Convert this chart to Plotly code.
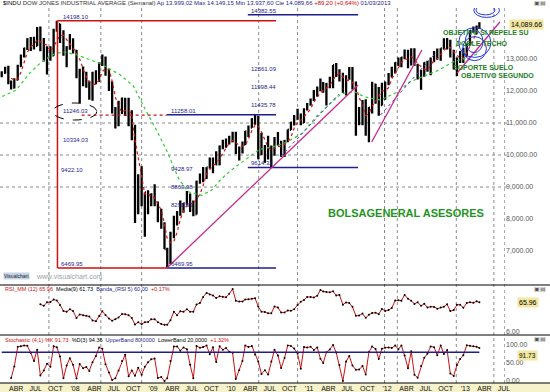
import plotly.graph_objects as go
import pandas as pd

W, H = 550, 392
PLOT_W = 505

# ---------------- DATA (semi-monthly bars, Dow Jones Industrial) ----------------
OPEN_2007 = [12500, 12570, 12650, 12270, 12110, 12350, 12780, 13100, 13330, 13620, 13490, 13410, 13900, 13360, 13240, 13240, 13110, 13900, 14090, 13800, 13180, 13370, 13600]
HIGH_2007 = [12620, 12760, 12790, 12330, 12400, 12820, 13140, 13350, 13650, 13690, 13700, 14000, 14020, 13660, 13400, 13400, 13950, 14198.10, 14100, 13900, 13400, 13780, 13650]
LOW_2007 = [12430, 12540, 12210, 12050, 12080, 12340, 12760, 13050, 13280, 13250, 13300, 13400, 13240, 12920, 12520, 12950, 13100, 13850, 13500, 13100, 12740, 13290, 13170]
CLOSE_2007 = [12570, 12650, 12270, 12110, 12350, 12780, 13100, 13330, 13620, 13490, 13410, 13900, 13360, 13240, 13240, 13110, 13900, 14090, 13800, 13180, 13370, 13600, 13260]

OPEN_2008 = [13260, 12500, 12650, 12350, 12270, 11950, 12260, 12360, 12820, 12990, 12640, 12270, 11350, 11000, 11380, 11650, 11540, 11020, 10850, 8450, 9320, 8500, 8830, 8600]
HIGH_2008 = [13280, 12700, 12770, 12600, 12300, 12600, 12650, 12900, 13140, 13080, 12700, 12300, 11500, 11700, 11800, 11790, 11790, 11400, 10950, 9400, 9650, 8830, 8900, 8800]
LOW_2008 = [12400, 11630, 12150, 12100, 11730, 11700, 12210, 12280, 12780, 12480, 12000, 11300, 10830, 10900, 11280, 11220, 10900, 10460, 7880, 8150, 8400, 7450, 8150, 8400]
CLOSE_2008 = [12500, 12650, 12350, 12270, 11950, 12260, 12360, 12820, 12990, 12640, 12270, 11350, 11000, 11380, 11650, 11540, 11020, 10850, 8450, 9320, 8500, 8830, 8600, 8780]

OPEN_2009 = [8780, 8470, 8000, 7850, 7060, 6630, 7500, 8030, 8180, 8270, 8500, 8750, 8450, 8150, 9170, 9320, 9540, 9610, 9710, 9870, 9710, 10270, 10340, 10450]
HIGH_2009 = [9090, 8550, 8320, 7900, 7100, 7600, 8100, 8250, 8580, 8500, 8880, 8800, 8580, 9200, 9420, 9630, 9620, 9920, 9920, 10120, 10300, 10480, 10520, 10600]
LOW_2009 = [8400, 7900, 7700, 7060, 6469.95, 6600, 7400, 7800, 8100, 8200, 8450, 8220, 8090, 8140, 9100, 9150, 9250, 9580, 9430, 9680, 9680, 10180, 10230, 10330]
CLOSE_2009 = [8470, 8000, 7850, 7060, 6630, 7500, 8030, 8180, 8270, 8500, 8750, 8450, 8150, 9170, 9320, 9540, 9610, 9710, 9870, 9710, 10270, 10340, 10450, 10430]

OPEN_2010 = [10430, 10610, 10070, 10100, 10330, 10740, 10860, 11120, 11010, 10620, 10140, 10210, 10020, 10200, 10470, 10400, 10010, 10440, 10790, 11010, 11120, 11200, 11010, 11430]
HIGH_2010 = [10730, 10730, 10270, 10420, 10750, 10920, 11150, 11258, 11230, 10700, 10310, 10600, 10300, 10560, 10720, 10450, 10470, 10800, 11040, 11250, 11450, 11300, 11460, 11630]
LOW_2010 = [10400, 10030, 9830, 10050, 10310, 10560, 10850, 10950, 9870, 9990, 9760, 9860, 9614.32, 9980, 10300, 9940, 9940, 10400, 10780, 10920, 11100, 10930, 11000, 11390]
CLOSE_2010 = [10610, 10070, 10100, 10330, 10740, 10860, 11120, 11010, 10620, 10140, 10210, 10020, 10200, 10470, 10400, 10010, 10440, 10790, 11010, 11120, 11200, 11010, 11430, 11580]

OPEN_2011 = [11580, 11730, 11890, 12090, 12070, 12040, 12220, 12340, 12810, 12600, 12440, 11950, 12410, 12480, 12240, 11270, 11280, 11500, 10910, 11480, 12210, 12080, 11560, 12180]
HIGH_2011 = [11770, 12030, 12140, 12390, 12280, 12250, 12450, 12810, 12880, 12680, 12570, 12490, 12750, 12750, 12300, 11500, 11720, 11740, 11500, 12290, 12230, 12130, 12260, 12300]
LOW_2011 = [11550, 11690, 11820, 11990, 11950, 11550, 12090, 12090, 12440, 12300, 11950, 11860, 12350, 12050, 10600, 10930, 10930, 10600, 10400, 11300, 11600, 11230, 11550, 11730]
CLOSE_2011 = [11730, 11890, 12090, 12070, 12040, 12220, 12340, 12810, 12600, 12440, 11950, 12410, 12480, 12240, 11270, 11280, 11500, 10910, 11480, 12210, 12080, 11560, 12180, 12220]

OPEN_2012 = [12220, 12470, 12660, 12880, 12950, 13050, 13080, 12920, 13230, 12820, 12450, 12580, 12880, 12730, 13010, 13200, 13090, 13330, 13460, 13560, 13100, 12810, 13000, 13160]
HIGH_2012 = [12560, 12760, 12900, 13050, 13060, 13300, 13290, 13340, 13340, 12850, 12660, 12900, 12950, 13050, 13250, 13330, 13340, 13650, 13660, 13600, 13290, 13050, 13250, 13350]
LOW_2012 = [12180, 12420, 12550, 12780, 12740, 12990, 12710, 12800, 12800, 12360, 12040, 12450, 12600, 12490, 12900, 12980, 12950, 13320, 13300, 13050, 12670, 12470, 12880, 12880]
CLOSE_2012 = [12470, 12660, 12880, 12950, 13050, 13080, 12920, 13230, 12820, 12450, 12580, 12880, 12730, 13010, 13200, 13090, 13330, 13460, 13560, 13100, 12810, 13000, 13160, 13100]

OPEN_2013 = [13100, 13470, 13880, 13980, 14000]
HIGH_2013 = [13480, 13900, 14020, 14050, 14150]
LOW_2013 = [13080, 13420, 13820, 13780, 13940]
CLOSE_2013 = [13470, 13880, 13980, 14000, 14089.66]

OPEN = OPEN_2007 + OPEN_2008 + OPEN_2009 + OPEN_2010 + OPEN_2011 + OPEN_2012 + OPEN_2013
HIGH = HIGH_2007 + HIGH_2008 + HIGH_2009 + HIGH_2010 + HIGH_2011 + HIGH_2012 + HIGH_2013
LOW = LOW_2007 + LOW_2008 + LOW_2009 + LOW_2010 + LOW_2011 + LOW_2012 + LOW_2013
CLOSE = CLOSE_2007 + CLOSE_2008 + CLOSE_2009 + CLOSE_2010 + CLOSE_2011 + CLOSE_2012 + CLOSE_2013

DATES = [pd.Timestamp(y, m, d) for y in range(2007, 2014) for m in range(1, 13) for d in (8, 23)]
DATES = [d for d in DATES if pd.Timestamp("2007-01-23") <= d <= pd.Timestamp("2013-03-08")]

# long (green) moving average
GREEN_DATES = ["2007-01-25", "2007-04-01", "2007-06-01", "2007-08-01", "2007-10-01", "2007-11-15",
               "2008-01-15", "2008-03-15", "2008-05-01", "2008-08-01", "2008-10-01", "2008-12-01",
               "2009-01-15", "2009-03-01", "2009-05-01", "2009-06-15", "2009-08-15", "2009-10-01", "2009-11-15",
               "2010-01-15", "2010-03-15", "2010-05-15", "2010-07-15", "2010-09-15", "2010-12-01",
               "2011-02-01", "2011-04-01", "2011-06-01", "2011-08-01", "2011-09-15", "2011-12-01",
               "2012-02-15", "2012-04-15", "2012-07-01", "2012-09-01", "2012-11-01", "2013-01-15", "2013-03-08"]
GREEN_VALUES = [11830, 12030, 12550, 12930, 13180, 13220,
                13120, 12960, 12850, 12500, 12150, 11350,
                10800, 10200, 9250, 8850, 8740, 8900, 9250,
                9600, 9880, 10180, 10260, 10390, 10680,
                11180, 11560, 11920, 11980, 11820, 11720,
                11960, 12280, 12500, 12660, 12900, 13050, 13180]

# Fibonacci / level annotations
PEAK_DATE, PEAK = "2007-10-11", 14198.10
LOW_DATE, BOTTOM = "2009-03-06", 6469.95
RETR1 = [11246.03, 10334.03, 9422.10]
RETR2_TOP = 11258.01
RETR2 = [9428.97, 8863.98, 8298.99]
RETR3_TOP, RETR3_LOW = 14382.55, 9614.32
RETR3 = [12561.09, 11998.44, 11435.78]
TREND_LINES = [("2009-03-06", 6469.95, "2011-08-18", 12189),
               ("2011-10-21", 10407, "2012-06-12", 13282),
               ("2012-11-24", 12564, "2013-06-12", 14157)]
DOTTED_TRENDS = [("2010-08-20", 9950, "2011-05-20", 11900),
                 ("2011-12-01", 11250, "2012-08-10", 13150)]

PRICE_TICKS = [7000, 8000, 9000, 10000, 11000, 12000, 13000]
PRICE_GRID = [9000, 10000, 11000]
VGRID_DATES = ["2007-09-01", "2008-05-01", "2008-11-08", "2010-05-10", "2010-11-08",
               "2011-12-20", "2012-02-18", "2012-11-20", "2013-05-15", "2013-07-05"]
MONTH_NAMES = {4: "ABR", 7: "JUL", 10: "OCT"}

X0, X1 = "2007-01-15", "2013-07-06"

# ---------------- indicators ----------------
cs = pd.Series(CLOSE, dtype=float)
hs = pd.Series(HIGH, dtype=float)
ls = pd.Series(LOW, dtype=float)
ma_short = cs.rolling(4).mean()
delta = cs.diff()
gain = delta.clip(lower=0).rolling(12).mean()
loss = (-delta.clip(upper=0)).rolling(12).mean()
rsi = 100 * gain / (gain + loss)
lo4 = ls.rolling(4).min()
hi4 = hs.rolling(4).max()
stoch = 100 * (cs - lo4) / (hi4 - lo4)


def py(px):
    return (H - px) / H


def pxx(px):
    return px / PLOT_W


FONT = "Liberation Sans, Arial, sans-serif"
NAVY = "#1e1e8c"
MAG = "#c8288c"

fig = go.Figure()
fig.add_trace(go.Ohlc(x=DATES, open=OPEN, high=HIGH, low=LOW, close=CLOSE,
                      increasing=dict(line=dict(color="black", width=2.3)),
                      decreasing=dict(line=dict(color="black", width=2.3)),
                      tickwidth=0.4, xaxis="x", yaxis="y", showlegend=False, hoverinfo="skip"))
fig.add_trace(go.Scatter(x=DATES, y=ma_short, mode="lines", line=dict(color="#dd1111", width=1.2, dash="dot"),
                         xaxis="x", yaxis="y", showlegend=False, hoverinfo="skip"))
fig.add_trace(go.Scatter(x=GREEN_DATES, y=GREEN_VALUES, mode="lines", line=dict(color="#33cc33", width=1.2, dash="dot"),
                         xaxis="x", yaxis="y", showlegend=False, hoverinfo="skip"))
fig.add_trace(go.Scatter(x=DATES, y=rsi, mode="lines+markers", line=dict(color="#cc1111", width=1),
                         marker=dict(color="black", size=2), xaxis="x2", yaxis="y2", showlegend=False, hoverinfo="skip"))
fig.add_trace(go.Scatter(x=DATES, y=stoch, mode="lines+markers", line=dict(color="#cc1111", width=1),
                         marker=dict(color="black", size=2), xaxis="x3", yaxis="y3", showlegend=False, hoverinfo="skip"))

shapes = []
# background strip for time axis
shapes.append(dict(type="rect", xref="paper", yref="paper", x0=0, x1=W / PLOT_W, y0=0, y1=py(383),
                   fillcolor="#f6f2cc", line=dict(width=0), layer="below"))
# separators
for sep in (285, 335, 383):
    shapes.append(dict(type="line", xref="paper", yref="paper", x0=0, x1=W / PLOT_W, y0=py(sep), y1=py(sep),
                       line=dict(color="black", width=1)))
# grid
for v in PRICE_GRID:
    shapes.append(dict(type="line", xref="paper", yref="y", x0=0, x1=1.01, y0=v, y1=v,
                       line=dict(color="#8a8a8a", width=1, dash="dot"), layer="below"))
for d in VGRID_DATES:
    shapes.append(dict(type="line", xref="x", yref="paper", x0=d, x1=d, y0=py(383), y1=py(8),
                       line=dict(color="#8a8a8a", width=1, dash="dot"), layer="below"))
# first fibonacci box (red)
shapes.append(dict(type="line", xref="x", yref="y", x0=PEAK_DATE, x1="2010-07-30", y0=PEAK, y1=PEAK,
                   line=dict(color="#cc1111", width=1.5)))
shapes.append(dict(type="line", xref="x", yref="y", x0=PEAK_DATE, x1=PEAK_DATE, y0=BOTTOM, y1=PEAK,
                   line=dict(color="#cc1111", width=1.5)))
shapes.append(dict(type="line", xref="x", yref="y", x0=PEAK_DATE, x1=LOW_DATE, y0=BOTTOM, y1=BOTTOM,
                   line=dict(color="#cc1111", width=1.5)))
shapes.append(dict(type="line", xref="x", yref="y", x0=LOW_DATE, x1="2010-07-30", y0=BOTTOM, y1=BOTTOM,
                   line=dict(color=NAVY, width=1.5)))
shapes.append(dict(type="line", xref="x", yref="y", x0="2008-02-01", x1=LOW_DATE, y0=RETR1[0], y1=RETR1[0],
                   line=dict(color="#cc1111", width=1.2, dash="dot")))
shapes.append(dict(type="line", xref="x", yref="y", x0=LOW_DATE, x1="2010-07-30", y0=RETR2_TOP, y1=RETR2_TOP,
                   line=dict(color=NAVY, width=1.5)))
shapes.append(dict(type="line", xref="x", yref="y", x0="2010-03-20", x1="2011-08-18", y0=RETR3_TOP, y1=RETR3_TOP,
                   line=dict(color=NAVY, width=1.5)))
shapes.append(dict(type="line", xref="x", yref="y", x0="2010-03-20", x1="2011-08-18", y0=RETR3_LOW, y1=RETR3_LOW,
                   line=dict(color=NAVY, width=1.5)))
shapes.append(dict(type="circle", xref="x", yref="y", x0="2007-09-19", x1="2008-04-12", y0=11095, y1=11626,
                   line=dict(color="black", width=1, dash="dash")))
for (a, va, b, vb) in TREND_LINES:
    shapes.append(dict(type="line", xref="x", yref="y", x0=a, x1=b, y0=va, y1=vb, line=dict(color=MAG, width=1.3)))
for (a, va, b, vb) in DOTTED_TRENDS:
    shapes.append(dict(type="line", xref="x", yref="y", x0=a, x1=b, y0=va, y1=vb,
                       line=dict(color="#5a3cb4", width=1, dash="dot")))
# blue hand-drawn circles
for (a, b, v0, v1) in [("2013-02-10", "2013-06-10", 14300, 14750), ("2012-12-01", "2013-05-01", 13050, 13980),
                       ("2012-12-20", "2013-04-10", 12950, 13700), ("2013-01-01", "2013-03-25", 13200, 13900),
                       ("2013-02-20", "2013-05-20", 14380, 14680)]:
    shapes.append(dict(type="circle", xref="x", yref="y", x0=a, x1=b, y0=v0, y1=v1,
                       line=dict(color="#2436e0", width=1)))
# stochastic upper band
shapes.append(dict(type="line", xref="x3", yref="y3", x0=DATES[0], x1=DATES[-1], y0=80, y1=80,
                   line=dict(color=NAVY, width=1.5)))

ann = []


def lab(x, y, text, color=NAVY, size=6):
    ann.append(dict(x=x, y=y, xref="x", yref="y", text=text, showarrow=False, xanchor="left", yanchor="bottom",
                    font=dict(size=size, color=color, family=FONT), borderpad=0))


lab("2007-10-31", PEAK, f"{PEAK:.2f}")
lab("2007-10-31", RETR1[0], f"{RETR1[0]:.2f}")
lab("2007-10-31", RETR1[1], f"{RETR1[1]:.2f}")
lab("2007-10-21", RETR1[2], f"{RETR1[2]:.2f}")
lab("2007-10-21", BOTTOM, f"{BOTTOM:.2f}")
lab("2009-03-20", BOTTOM, f"{BOTTOM:.2f}")
lab("2009-03-20", RETR2_TOP, f"{RETR2_TOP:.2f}")
for v in RETR2:
    lab("2009-03-20", v, f"{v:.2f}")
lab("2010-03-30", RETR3_TOP, f"{RETR3_TOP:.2f}")
lab("2010-03-30", RETR3_LOW, f"{RETR3_LOW:.2f}")
for v in RETR3:
    lab("2010-03-30", v, f"{v:.2f}")


def ptext(xpx, ypx, text, size, color, bold=False, anchor="left", bg=None):
    t = f"<b>{text}</b>" if bold else text
    d = dict(x=pxx(xpx), y=py(ypx), xref="paper", yref="paper", text=t, showarrow=False,
             xanchor=anchor, yanchor="middle", font=dict(size=size, color=color, family=FONT), borderpad=0)
    if bg:
        d["bgcolor"] = bg
    ann.append(d)


ptext(2, 3.5, '<span style="color:#000">$INDU</span> <span style="color:#333">DOW JONES INDUSTRIAL AVERAGE (Semanal)</span> '
      '<span style="color:#1e1e8c">Ap 13.999,02 Max 14.149,15 Min 13.937,60 Cie 14.089,66</span> '
      '<span style="color:#cc0000">+89,20 (+0,64%)</span> <span style="color:#1e1e8c">01/03/2013</span>', 6, "#000")
ptext(406, 213, "BOLSAGENERAL ASESORES", 11, "#1e961e", bold=True, anchor="center")
ptext(442, 33, "OBJETIVO SI REPELE SU", 7, "#23801f", bold=True)
ptext(455, 43, "DOBLE TECHO", 7, "#23801f", bold=True)
ptext(452, 67, "SOPORTE SUELO", 7, "#23801f", bold=True)
ptext(460, 75, "OBJETIVO SEGUNDO", 7, "#23801f", bold=True)
ptext(3, 276, "Visualchart", 5, "#223", bg="#c5d3e3")
ptext(35, 276, "www.visualchart.com", 7, "#9aa4aa")

last_rsi = rsi.iloc[-1]
last_k = stoch.iloc[-1]
ptext(4, 289, f'<span style="color:#cc1111">RSI_MM (12) {last_rsi:.2f}</span>  '
      f'<span style="color:#000">Media(9) {rsi.iloc[-9:].mean():.2f}</span>  '
      f'<span style="color:#1e1e8c">Banda_(RSI 5) 60,00</span>  <span style="color:#cc1111">+0,17%</span>', 5.5, "#000")
ptext(4, 339.5, f'<span style="color:#cc1111">Stochastic (4,1) %K {last_k:.2f}</span>  '
      f'<span style="color:#000">%D(3) {stoch.iloc[-3:].mean():.2f}</span>  '
      f'<span style="color:#1e1e8c">UpperBand 80,0000</span>  <span style="color:#000">LowerBand 20,0000</span>  '
      f'<span style="color:#cc1111">+1,32%</span>', 5.5, "#000")
for ypx in (3, 289, 339):
    ptext(547, ypx, "▣▤", 6, "#555", anchor="right")

# last value boxes on right scale
ann.append(dict(x=1.0, y=CLOSE[-1], xref="paper", yref="y", text=f"{CLOSE[-1]:,.2f}", showarrow=False,
                xanchor="left", yanchor="middle", bgcolor="#f2e6a0", font=dict(size=7, color="#000", family=FONT),
                xshift=4))
ann.append(dict(x=1.0, y=last_rsi, xref="paper", yref="y2", text=f"{last_rsi:.2f}", showarrow=False,
                xanchor="left", yanchor="middle", bgcolor="#f2e6a0", font=dict(size=7, color="#000", family=FONT),
                xshift=12))
ann.append(dict(x=1.0, y=last_k, xref="paper", yref="y3", text=f"{last_k:.2f}", showarrow=False,
                xanchor="left", yanchor="top", bgcolor="#f2e6a0", font=dict(size=6.5, color="#000", family=FONT),
                xshift=12, yshift=-2))

# time axis ticks
tickvals, ticktext = [], []
for y in range(2007, 2014):
    for m in (1, 4, 7, 10):
        d = pd.Timestamp(y, m, 1)
        if pd.Timestamp(X0) < d < pd.Timestamp(X1):
            tickvals.append(d)
            ticktext.append(f"'{str(y)[2:]}" if m == 1 else MONTH_NAMES[m])

axfont = dict(size=7, color="#555", family=FONT)
fig.update_layout(
    width=W, height=H, margin=dict(l=0, r=W - PLOT_W, t=0, b=0),
    paper_bgcolor="white", plot_bgcolor="white", showlegend=False,
    xaxis=dict(domain=[0, 1], range=[X0, X1], type="date", anchor="y", showticklabels=False, showgrid=False,
               zeroline=False, rangeslider=dict(visible=False)),
    xaxis2=dict(domain=[0, 1], range=[X0, X1], type="date", anchor="y2", showticklabels=False, showgrid=False,
                zeroline=False),
    xaxis3=dict(domain=[0, 1], range=[X0, X1], type="date", anchor="y3", tickvals=tickvals, ticktext=ticktext,
                tickfont=dict(size=7, color="#111", family=FONT), ticks="", showgrid=False, zeroline=False,
                automargin=False),
    yaxis=dict(domain=[py(284), py(8)], range=[5970, 14595], side="right", anchor="x", tickvals=PRICE_TICKS,
               ticktext=[f"{v:,.2f}" for v in PRICE_TICKS], tickfont=axfont, showgrid=False, zeroline=False,
               ticks="", automargin=False),
    yaxis2=dict(domain=[py(334), py(286)], range=[0, 100], side="right", anchor="x2", tickvals=[6],
                ticktext=["6.00"], tickfont=axfont, showgrid=False, zeroline=False, ticks="", automargin=False),
    yaxis3=dict(domain=[py(383), py(336)], range=[-5.6, 125], side="right", anchor="x3", tickvals=[100, 50, 0],
                ticktext=["100.00", "50.00", "0.00"], tickfont=axfont, showgrid=False, zeroline=False, ticks="",
                automargin=False),
    shapes=shapes, annotations=ann,
)

fig.write_html("out.html", config={"displayModeBar": False})
